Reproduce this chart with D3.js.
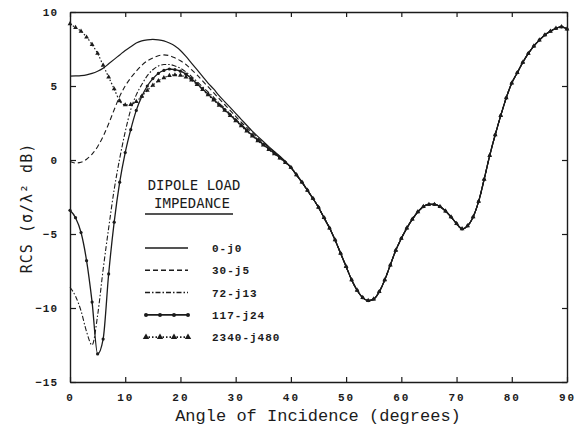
<!DOCTYPE html>
<html lang="en">
<head>
<meta charset="UTF-8">
<title>rcs</title>
<script src="https://cdn.jsdelivr.net/npm/d3@7/dist/d3.min.js"></script>
<style>
    body{margin:0;background:#fff;}
    svg text{fill:#1b1b1b;}
</style>
</head>
<body>
<svg width="578" height="433"></svg>
<script>
    // angles where the five loads still differ
    const angles = [0,1,2,3,4,5,6,7,8,9,10,11,12,13,14,15,16,17,18,19,20,
        21,22,23,24,25,26,27,28,29,30,31,32,33,34,35,36,37,38,39];
    const load0 = [5.67,5.68,5.7,5.75,5.85,6.0,6.2,6.5,6.8,7.1,7.4,7.65,7.9,8.05,8.12,8.15,8.12,8.05,7.9,7.7,7.4,
        7.0,6.55,6.1,5.65,5.2,4.8,4.35,3.95,3.55,3.15,2.75,2.35,1.95,1.6,1.25,0.9,0.57,0.25,-0.1];
    const load30 = [-0.1,-0.2,-0.15,0.05,0.4,0.9,1.6,2.45,3.4,4.3,5.0,5.55,6.0,6.4,6.7,6.9,7.05,7.1,7.05,6.9,6.7,
        6.45,6.1,5.75,5.35,4.95,4.55,4.15,3.75,3.35,2.95,2.55,2.2,1.85,1.5,1.17,0.85,0.53,0.21,-0.12];
    const load72 = [-8.6,-9.2,-10.2,-11.6,-12.5,-10.5,-7.4,-4.6,-2.0,0.1,1.9,3.4,4.4,5.1,5.7,6.1,6.35,6.45,6.45,6.35,6.2,
        5.95,5.65,5.3,4.95,4.6,4.25,3.85,3.5,3.1,2.75,2.4,2.05,1.72,1.4,1.08,0.78,0.48,0.18,-0.14];
    const load117 = [-3.4,-3.9,-4.9,-6.8,-9.6,-13.1,-12.1,-7.7,-4.2,-1.5,0.5,2.05,3.35,4.3,5.0,5.5,5.85,6.05,6.15,6.1,6.0,
        5.8,5.5,5.15,4.8,4.45,4.1,3.75,3.4,3.05,2.7,2.35,2.0,1.67,1.35,1.04,0.74,0.45,0.15,-0.16];
    const load2340 = [9.2,8.95,8.7,8.3,7.8,7.2,6.4,5.6,4.8,4.0,3.72,3.75,3.95,4.3,4.7,5.05,5.35,5.55,5.7,5.75,5.72,
        5.6,5.4,5.1,4.75,4.4,4.05,3.7,3.35,3.0,2.65,2.3,1.95,1.62,1.3,1.0,0.7,0.41,0.12,-0.18];

    // beyond 40 degrees all loads give the same curve
    const tailAngles = [40,41,42,43,44,45,46,47,48,49,50,51,52,53,54,55,56,57,58,59,60,
        61,62,63,64,65,66,67,68,69,70,71,72,73,74,75,76,77,78,79,80,
        81,82,83,84,85,86,87,88,89,90];
    const tail = [-0.5,-1.0,-1.5,-2.05,-2.6,-3.2,-3.9,-4.6,-5.4,-6.3,-7.2,-8.1,-8.8,-9.3,-9.5,-9.4,-8.9,-8.1,-7.1,-6.1,-5.3,
        -4.6,-4.0,-3.5,-3.15,-3.0,-3.0,-3.15,-3.45,-3.85,-4.3,-4.65,-4.45,-3.85,-2.8,-1.3,0.3,1.7,3.0,4.2,5.2,
        5.9,6.6,7.2,7.7,8.1,8.45,8.7,8.9,9.0,8.85];

    const loads = ['0-j0','30-j5','72-j13','117-j24','2340-j480'];
    const xTicks = [0,10,20,30,40,50,60,70,80,90];
    const yTicks = [10,5,0,-5,-10,-15];

    const svg = d3.select('svg');
    const ink = '#1b1b1b';
    const x = d3.scaleLinear().domain([0,90]).range([70,567]);
    const y = d3.scaleLinear().domain([-15,10]).range([382,12]);

    const styles = [
        {dash:null, width:1.2, marker:null},
        {dash:'5,3', width:1.1, marker:null},
        {dash:'5,2,1.5,2', width:1.1, marker:null},
        {dash:null, width:1.3, marker:'circle'},
        {dash:'1.5,2', width:1.2, marker:'triangle'}
    ];
    const values = [load0, load30, load72, load117, load2340];
    const series = loads.map((name,k)=>({
        name,
        style: styles[k],
        pts: angles.map((a,i)=>({a, v: values[k][i]}))
            .concat(tailAngles.map((a,i)=>({a, v: tail[i]})))
    }));

    const line = d3.line().curve(d3.curveMonotoneX).x(d=>x(d.a)).y(d=>y(d.v));
    const tri = d3.symbol(d3.symbolTriangle).size(10);

    const plot = svg.append('g').attr('class','plot');
    series.forEach(s=>{
        plot.append('path').datum(s.pts)
            .attr('d',line)
            .attr('fill','none')
            .attr('stroke',ink)
            .attr('stroke-width',s.style.width)
            .attr('stroke-dasharray',s.style.dash);
        if (s.style.marker==='circle'){
            plot.selectAll(null).data(s.pts).join('circle')
                .attr('cx',d=>x(d.a)).attr('cy',d=>y(d.v)).attr('r',1.6).attr('fill',ink);
        } else if (s.style.marker==='triangle'){
            plot.selectAll(null).data(s.pts).join('path')
                .attr('d',tri).attr('transform',d=>`translate(${x(d.a)},${y(d.v)})`).attr('fill',ink);
        }
    });

    // frame with inward ticks on all four sides
    const axFont = 'Liberation Mono, monospace';
    svg.append('g').attr('transform',`translate(0,${y(-15)})`)
        .call(d3.axisBottom(x).tickValues(xTicks).tickSizeInner(-5).tickSizeOuter(0).tickPadding(11))
        .call(g=>g.selectAll('text').attr('font-family',axFont).attr('font-weight','bold')
            .attr('font-size',11).attr('letter-spacing',2).attr('fill',ink));
    svg.append('g').attr('transform',`translate(0,${y(10)})`)
        .call(d3.axisTop(x).tickValues(xTicks).tickSizeInner(-5).tickSizeOuter(0).tickFormat(''));
    svg.append('g').attr('transform',`translate(${x(0)},0)`)
        .call(d3.axisLeft(y).tickValues(yTicks).tickSizeInner(-6).tickSizeOuter(0).tickPadding(12))
        .call(g=>g.selectAll('text').attr('font-family',axFont).attr('font-weight','bold')
            .attr('font-size',11).attr('letter-spacing',1).attr('fill',ink));
    svg.append('g').attr('transform',`translate(${x(90)},0)`)
        .call(d3.axisRight(y).tickValues(yTicks).tickSizeInner(-5).tickSizeOuter(0).tickFormat(''));
    svg.selectAll('.domain').attr('stroke',ink).attr('stroke-width',1.4);
    svg.selectAll('.tick line').attr('stroke',ink).attr('stroke-width',1.2);

    // axis titles
    svg.append('text').text('Angle of Incidence (degrees)')
        .attr('x',318).attr('y',421)
        .attr('text-anchor','middle')
        .attr('font-family','Liberation Mono, monospace')
        .attr('font-size',17);
    svg.append('text').text('RCS (\u03c3/\u03bb\u00b2 dB)')
        .attr('transform','translate(32,208) rotate(-90)')
        .attr('text-anchor','middle')
        .attr('font-family','DejaVu Sans Mono, monospace')
        .attr('font-size',15).attr('letter-spacing',1);

    // legend
    const lg = svg.append('g').attr('class','legend');
    const lgFont = 'DejaVu Sans Mono, monospace';
    lg.append('text').text('DIPOLE LOAD').attr('x',194).attr('y',190)
        .attr('text-anchor','middle').attr('font-family',lgFont).attr('font-size',14);
    lg.append('text').text('IMPEDANCE').attr('x',192).attr('y',208)
        .attr('text-anchor','middle').attr('font-family',lgFont).attr('font-size',14);
    lg.append('line').attr('x1',145).attr('x2',233).attr('y1',214).attr('y2',214)
        .attr('stroke',ink).attr('stroke-width',1.3);
    series.forEach((s,k)=>{
        const yy = 248 + k*22.3;
        lg.append('line').attr('x1',145).attr('x2',188).attr('y1',yy).attr('y2',yy)
            .attr('stroke',ink).attr('stroke-width',s.style.marker?1.8:1.5)
            .attr('stroke-dasharray',s.style.dash);
        const mx = [146,160,174,188];
        if (s.style.marker==='circle'){
            lg.selectAll(null).data(mx).join('circle')
                .attr('cx',d=>d).attr('cy',yy).attr('r',2).attr('fill',ink);
        } else if (s.style.marker==='triangle'){
            lg.selectAll(null).data(mx).join('path')
                .attr('d',d3.symbol(d3.symbolTriangle).size(18))
                .attr('transform',d=>`translate(${d},${yy})`).attr('fill',ink);
        }
        lg.append('text').text(s.name).attr('x',212).attr('y',yy+4)
            .attr('font-family','Liberation Mono, monospace').attr('font-weight','bold')
            .attr('font-size',11).attr('letter-spacing',1);
    });
</script>
</body>
</html>
